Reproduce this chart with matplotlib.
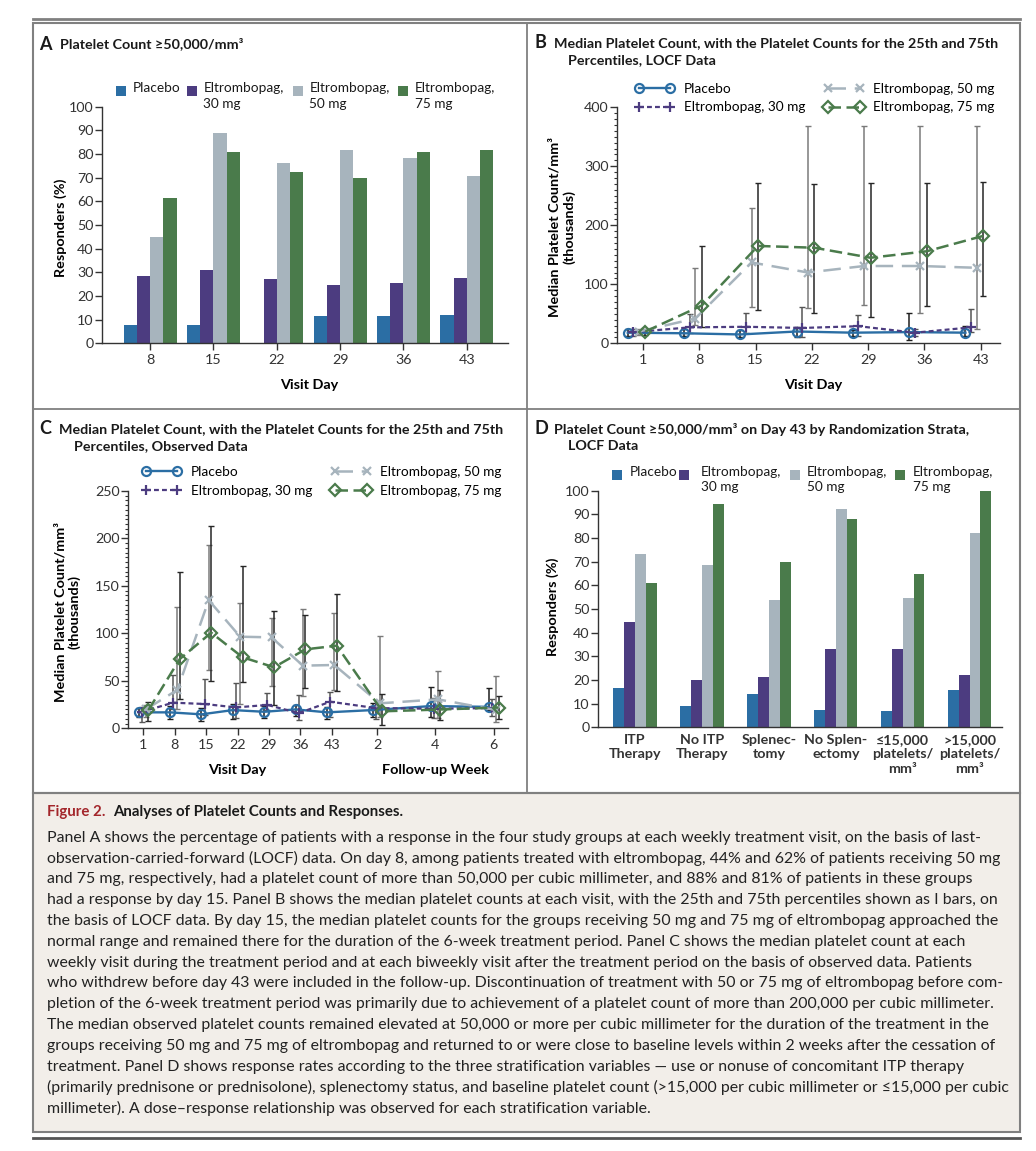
import numpy as np
import matplotlib.pyplot as plt
from matplotlib.patches import Rectangle
from matplotlib.lines import Line2D
from matplotlib.ticker import MultipleLocator

plt.rcParams['font.family'] = ['Lato', 'DejaVu Sans']
plt.rcParams['font.size'] = 9
plt.rcParams['axes.linewidth'] = 1.0
plt.rcParams['axes.edgecolor'] = '#333333'
plt.rcParams['xtick.color'] = '#333333'
plt.rcParams['ytick.color'] = '#333333'

W, H = 1036, 1151

# groups and colours
bar_labels = ['Placebo', 'Eltrombopag,\n30 mg', 'Eltrombopag,\n50 mg', 'Eltrombopag,\n75 mg']
line_labels = ['Placebo', 'Eltrombopag, 30 mg', 'Eltrombopag, 50 mg', 'Eltrombopag, 75 mg']
colors = ['#2b6ea4', '#4c3c80', '#a7b4bd', '#4a7b4b']

# panel A: responders (%) per visit day, LOCF
a_days = ['8', '15', '22', '29', '36', '43']
a_placebo = [7.7, 7.7, 0, 11.5, 11.5, 12.0]
a_30mg = [28.6, 31.0, 27.2, 24.6, 25.4, 27.7]
a_50mg = [44.8, 89.0, 76.3, 81.7, 78.2, 70.8]
a_75mg = [61.5, 81.0, 72.2, 69.8, 81.0, 81.5]

# panel B: median platelet count (thousands), LOCF, with 25th/75th percentiles
b_days = [1, 8, 15, 22, 29, 36, 43]
b_placebo_med = [18, 17, 15, 20, 18, 19, 18]
b_placebo_q1 = [12, 12, 10, 11, 12, 6, 12]
b_placebo_q3 = [25, 24, 22, 28, 23, 52, 30]
b_30mg_med = [19, 27, 28, 26, 29, 18, 27]
b_30mg_q1 = [13, 18, 18, 10, 12, 12, 20]
b_30mg_q3 = [25, 50, 52, 61, 48, 25, 58]
b_50mg_med = [20, 42, 137, 120, 131, 131, 128]
b_50mg_q1 = [14, 31, 62, 59, 65, 52, 25]
b_50mg_q3 = [25, 127, 230, 368, 368, 368, 368]
b_75mg_med = [20, 64, 165, 162, 145, 156, 182]
b_75mg_q1 = [14, 28, 56, 51, 45, 64, 80]
b_75mg_q3 = [25, 165, 272, 270, 272, 272, 274]

# panel C: observed data, treatment days then follow-up weeks
c_ticks = ['1', '8', '15', '22', '29', '36', '43', '2', '4', '6']
c_xpos = [0, 1, 2, 3, 4, 5, 6, 7.45, 9.3, 11.15]
c_placebo_med = [16.8, 16.8, 14.7, 19.2, 17.4, 19.9, 16.8, 19.2, 23.4, 22.6]
c_placebo_q1 = [12, 10, 8, 10, 11, 13, 10, 12, 11.6, 19.6]
c_placebo_q3 = [21, 23, 21, 26, 24, 25, 22, 27, 43.9, 42]
c_30mg_med = [17.4, 27, 25.6, 22, 24.6, 16, 28, 21.3, 20.6, 21.3]
c_30mg_q1 = [6.9, 20.6, 14, 10.5, 19.6, 8.7, 12, 10, 11, 13]
c_30mg_q3 = [22.8, 56, 52, 47.7, 37, 35, 38.5, 25, 32, 31]
c_50mg_med = [20, 40.4, 135, 96.5, 95.8, 66, 66.7, 26.3, 30.5, 19.2]
c_50mg_q1 = [12, 20, 61.4, 25.6, 45, 34, 40, 12, 11, 7]
c_50mg_q3 = [25, 127.5, 193, 131.7, 116, 126, 121, 97.6, 60.7, 55]
c_75mg_med = [19.2, 73, 100.7, 74.8, 64.3, 83.2, 87, 17.9, 19.8, 21.9]
c_75mg_q1 = [8, 31, 50, 48.5, 24.6, 42, 39, 3.5, 8.7, 10]
c_75mg_q3 = [28, 165, 213.5, 171.4, 123.6, 119, 142, 36, 40.4, 34]

# panel D: responders (%) on day 43 by randomization strata
d_strata = ['ITP\nTherapy', 'No ITP\nTherapy', 'Splenec-\ntomy', 'No Splen-\nectomy',
            '≤15,000\nplatelets/\nmm³', '>15,000\nplatelets/\nmm³']
d_placebo = [16.5, 9.0, 13.9, 7.3, 6.9, 15.8]
d_30mg = [44.4, 20.0, 21.4, 33.1, 33.2, 22.0]
d_50mg = [73.2, 68.6, 53.8, 92.4, 54.8, 82.0]
d_75mg = [60.8, 94.2, 70.0, 88.0, 65.0, 100.0]

caption_lines = [
    "Panel A shows the percentage of patients with a response in the four study groups at each weekly treatment visit, on the basis of last-",
    "observation-carried-forward (LOCF) data. On day 8, among patients treated with eltrombopag, 44% and 62% of patients receiving 50 mg",
    "and 75 mg, respectively, had a platelet count of more than 50,000 per cubic millimeter, and 88% and 81% of patients in these groups",
    "had a response by day 15. Panel B shows the median platelet counts at each visit, with the 25th and 75th percentiles shown as I bars, on",
    "the basis of LOCF data. By day 15, the median platelet counts for the groups receiving 50 mg and 75 mg of eltrombopag approached the",
    "normal range and remained there for the duration of the 6-week treatment period. Panel C shows the median platelet count at each",
    "weekly visit during the treatment period and at each biweekly visit after the treatment period on the basis of observed data. Patients",
    "who withdrew before day 43 were included in the follow-up. Discontinuation of treatment with 50 or 75 mg of eltrombopag before com-",
    "pletion of the 6-week treatment period was primarily due to achievement of a platelet count of more than 200,000 per cubic millimeter.",
    "The median observed platelet counts remained elevated at 50,000 or more per cubic millimeter for the duration of the treatment in the",
    "groups receiving 50 mg and 75 mg of eltrombopag and returned to or were close to baseline levels within 2 weeks after the cessation of",
    "treatment. Panel D shows response rates according to the three stratification variables \u2014 use or nonuse of concomitant ITP therapy",
    "(primarily prednisone or prednisolone), splenectomy status, and baseline platelet count (>15,000 per cubic millimeter or \u226415,000 per cubic",
    "millimeter). A dose\u2013response relationship was observed for each stratification variable.",
]

fig = plt.figure(figsize=(W / 100, H / 100), dpi=100)

TICK_FS = 10.3
LABEL_FS = 10.4
LEGEND_FS = 9.8


def fx(x):
    return x / W


def fy(y):
    return 1 - y / H


def axes_px(left, right, top, bottom):
    ax = fig.add_axes([fx(left), fy(bottom), (right - left) / W, (bottom - top) / H])
    ax.set_facecolor('none')
    ax.spines['top'].set_visible(False)
    ax.spines['right'].set_visible(False)
    ax.tick_params(direction='out', length=5, width=1, pad=1.2, labelsize=TICK_FS)
    ax.tick_params(axis='x', pad=3)
    return ax


def ptext(x, y, s, **kw):
    return fig.text(fx(x), fy(y), s, **kw)


def fline(x0, y0, x1, y1, **kw):
    fig.add_artist(Line2D([fx(x0), fx(x1)], [fy(y0), fy(y1)], **kw))


# frame, dividers and caption box
fig.add_artist(Rectangle((fx(33), fy(1132)), (1020 - 33) / W, (1132 - 793) / H,
                         facecolor='#f2eee9', edgecolor='#808080', lw=1.5, zorder=0))
fig.add_artist(Rectangle((fx(33), fy(793)), (1020 - 33) / W, (793 - 23) / H,
                         facecolor='none', edgecolor='#808080', lw=1.5, zorder=0))
fline(33, 19, 1020, 19, color='#808080', lw=2)
fline(33, 1138, 1020, 1138, color='#555555', lw=2)
fline(526.7, 23, 526.7, 793, color='#808080', lw=1.3)
fline(33, 409, 1020, 409, color='#808080', lw=1.3)

# panel titles
title_kw = dict(fontsize=10.3, fontweight='bold', va='center', color='#1a1a1a')
letter_kw = dict(fontsize=13, fontweight='bold', va='center', color='#1a1a1a')
ptext(39, 44, 'A', **letter_kw)
ptext(60, 44, 'Platelet Count ≥50,000/mm³', **title_kw)
ptext(534, 43, 'B', **letter_kw)
ptext(554, 43, 'Median Platelet Count, with the Platelet Counts for the 25th and 75th', **title_kw)
ptext(568, 60, 'Percentiles, LOCF Data', **title_kw)
ptext(39, 429, 'C', **letter_kw)
ptext(59, 429, 'Median Platelet Count, with the Platelet Counts for the 25th and 75th', **title_kw)
ptext(74, 446, 'Percentiles, Observed Data', **title_kw)
ptext(534, 429, 'D', **letter_kw)
ptext(554, 429, 'Platelet Count ≥50,000/mm³ on Day 43 by Randomization Strata,', **title_kw)
ptext(568, 446, 'LOCF Data', **title_kw)


def bar_legend(squares_x, texts_x, y):
    for c, sx, tx, lab in zip(colors, squares_x, texts_x, bar_labels):
        fig.add_artist(Rectangle((fx(sx - 5), fy(y + 5)), 10 / W, 10 / H, color=c, lw=0))
        ptext(tx, y - 8.5, lab, fontsize=LEGEND_FS, va='top', linespacing=1.3, color='#1a1a1a')


def grouped_bars(ax, series, width):
    x = np.arange(len(series[0]))
    for i, (vals, c) in enumerate(zip(series, colors)):
        ax.bar(x + (i - 1.5) * width, vals, width=width, color=c, lw=0)
    return x


# ---- Panel A ----
axA = axes_px(102, 508, 106.7, 343.3)
xA = grouped_bars(axA, [a_placebo, a_30mg, a_50mg, a_75mg], 0.21)
axA.set_xlim(-0.76, 5.65)
axA.set_ylim(0, 100)
axA.set_yticks(range(0, 101, 10))
axA.set_xticks(xA)
axA.set_xticklabels(a_days)
axA.set_ylabel('Responders (%)', fontsize=LABEL_FS, fontweight='bold', ha='center', va='center')
axA.yaxis.set_label_coords(-0.103, 0.49)
axA.set_xlabel('Visit Day', fontsize=LABEL_FS, fontweight='bold', va='center')
axA.xaxis.set_label_coords(0.51, -0.176)
bar_legend([121.3, 191.7, 297.7, 403.3], [132.7, 203.3, 309.3, 415], 91)

# ---- Panel D ----
axD = axes_px(598.3, 1001.7, 490.7, 727.3)
xD = grouped_bars(axD, [d_placebo, d_30mg, d_50mg, d_75mg], 0.162)
axD.set_xlim(-0.55, 5.48)
axD.set_ylim(0, 100)
axD.set_yticks(range(0, 101, 10))
axD.set_xticks(xD)
axD.set_xticklabels(d_strata, fontsize=10.3, fontweight='bold', linespacing=1.22)
axD.tick_params(axis='x', length=0, pad=5)
axD.set_ylabel('Responders (%)', fontsize=LABEL_FS, fontweight='bold', ha='center', va='center')
axD.yaxis.set_label_coords(-0.113, 0.51)
bar_legend([617, 684, 795, 900], [630, 700.7, 806.7, 912.7], 475)

# ---- line panels ----
markers = ['o', '+', 'x', 'D']
msizes = [6.5, 7, 6, 6]
dashes = [None, (2.2, 1.4), (7, 3.5), (5, 2.2)]
lws = [1.7, 1.6, 1.8, 1.8]
ecolors = ['#1e1e1e', '#555555', '#7a7a7a', '#262626']


def median_lines(ax, xpos, meds, q1s, q3s, offsets):
    handles = []
    for i in range(4):
        x = np.asarray(xpos, dtype=float) + offsets[i]
        med = np.asarray(meds[i], dtype=float)
        lo = med - np.asarray(q1s[i], dtype=float)
        hi = np.asarray(q3s[i], dtype=float) - med
        ax.errorbar(x, med, yerr=[lo, hi], fmt='none', ecolor=ecolors[i],
                    elinewidth=1.1, capsize=2, capthick=1, zorder=2)
        ln, = ax.plot(x, med, color=colors[i], lw=lws[i], marker=markers[i],
                      ms=msizes[i], mfc='none', mec=colors[i], mew=1.6, zorder=3)
        if dashes[i] is not None:
            ln.set_dashes(dashes[i])
        handles.append(ln)
    return handles


def line_legend(ax, handles, x, y):
    ax.legend(handles, line_labels, ncol=2, loc='upper left', bbox_to_anchor=(x, y),
              frameon=False, borderpad=0, borderaxespad=0, handlelength=2.9,
              handletextpad=0.7, columnspacing=1.4, labelspacing=0.5,
              numpoints=2, fontsize=LEGEND_FS)


# ---- Panel B ----
axB = axes_px(617.3, 1000, 107.3, 343.3)
hB = median_lines(axB, b_days,
                  [b_placebo_med, b_30mg_med, b_50mg_med, b_75mg_med],
                  [b_placebo_q1, b_30mg_q1, b_50mg_q1, b_75mg_q1],
                  [b_placebo_q3, b_30mg_q3, b_50mg_q3, b_75mg_q3],
                  [-1.9, -1.2, -0.5, 0.3])
axB.set_xlim(-2.2, 45.4)
axB.set_ylim(0, 400)
axB.set_yticks(range(0, 401, 100))
axB.yaxis.set_minor_locator(MultipleLocator(10))
axB.tick_params(axis='y', which='minor', length=2.5, width=0.8)
axB.set_xticks(b_days)
axB.set_ylabel('Median Platelet Count/mm³\n(thousands)', fontsize=LABEL_FS, fontweight='bold',
               ha='center', va='center', linespacing=1.2)
axB.yaxis.set_label_coords(-0.145, 0.493)
axB.set_xlabel('Visit Day', fontsize=LABEL_FS, fontweight='bold', va='center')
axB.xaxis.set_label_coords(0.511, -0.177)
line_legend(axB, hB, 0.046, 1.105)

# ---- Panel C ----
axC = axes_px(128.3, 508.3, 491, 728.3)
hC = median_lines(axC, c_xpos,
                  [c_placebo_med, c_30mg_med, c_50mg_med, c_75mg_med],
                  [c_placebo_q1, c_30mg_q1, c_50mg_q1, c_75mg_q1],
                  [c_placebo_q3, c_30mg_q3, c_50mg_q3, c_75mg_q3],
                  [-0.15, -0.05, 0.08, 0.16])
axC.set_xlim(-0.48, 11.62)
axC.set_ylim(0, 250)
axC.set_yticks(range(0, 251, 50))
axC.yaxis.set_minor_locator(MultipleLocator(5))
axC.tick_params(axis='y', which='minor', length=2.5, width=0.8)
axC.set_xticks(c_xpos)
axC.set_xticklabels(c_ticks)
axC.set_ylabel('Median Platelet Count/mm³\n(thousands)', fontsize=LABEL_FS, fontweight='bold',
               ha='center', va='center', linespacing=1.2)
axC.yaxis.set_label_coords(-0.16, 0.491)
axC.set_xlabel('Visit Day', fontsize=LABEL_FS, fontweight='bold', va='center')
axC.xaxis.set_label_coords((237 - 128.3) / 380, -(770 - 728.3) / 237.3)
axC.text((435 - 128.3) / 380, -(770 - 728.3) / 237.3, 'Follow-up Week', transform=axC.transAxes,
         fontsize=LABEL_FS, fontweight='bold', ha='center', va='center')
line_legend(axC, hC, 0.036, 1.105)

# ---- caption ----
ptext(46.7, 812, 'Figure 2.', fontsize=10.8, fontweight='bold', color='#a3262b', va='center')
ptext(112.7, 812, 'Analyses of Platelet Counts and Responses.', fontsize=10.8,
      fontweight='bold', color='#1a1a1a', va='center')
cap_texts = []
for i, line in enumerate(caption_lines):
    cap_texts.append(ptext(46.7, 837.7 + i * 20.8, line, fontsize=10, va='center', color='#222222'))

# scale the caption font so the lines span about the same width as the reference
fig.canvas.draw()
renderer = fig.canvas.get_renderer()
w_first = cap_texts[0].get_window_extent(renderer).width
w_long = cap_texts[12].get_window_extent(renderer).width
scale = min(946 / w_first, 962 / w_long)
for t in cap_texts:
    t.set_fontsize(t.get_fontsize() * scale)

fig.savefig('out.png', dpi=100)
